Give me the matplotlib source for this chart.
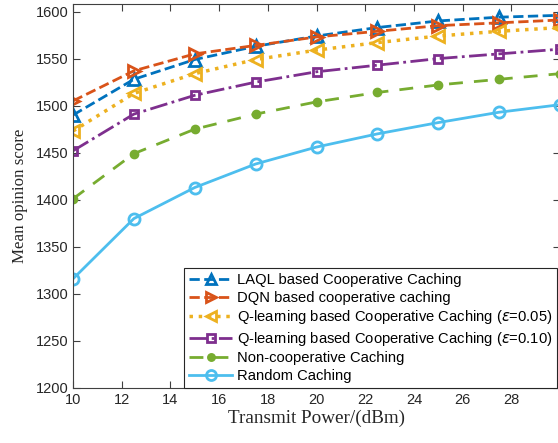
import matplotlib
matplotlib.use('Agg')
import matplotlib.pyplot as plt

# transmit power values (dBm)
power = [10, 12.5, 15, 17.5, 20, 22.5, 25, 27.5, 30]

# mean opinion score for each scheme
laql = [1490, 1528, 1549, 1563, 1574, 1583, 1590, 1594, 1596]
dqn = [1505, 1537, 1555, 1564, 1573, 1579, 1585, 1588, 1591]
ql_005 = [1473, 1513, 1534, 1549, 1559, 1567, 1574, 1579, 1583]
ql_010 = [1452, 1491, 1511, 1525, 1536, 1543, 1550, 1555, 1560]
noncoop = [1401, 1449, 1475, 1491, 1504, 1514, 1522, 1528, 1534]
random_c = [1316, 1380, 1413, 1438, 1456, 1470, 1482, 1493, 1501]

labels = ['LAQL based Cooperative Caching',
          'DQN based cooperative caching',
          r'Q-learning based Cooperative Caching ($\epsilon$=0.05)',
          r'Q-learning based Cooperative Caching ($\epsilon$=0.10)',
          'Non-cooperative Caching',
          'Random Caching']

fig = plt.figure(figsize=(5.58, 4.43), dpi=100)
ax = fig.add_axes([73/558, 1-388/443, 487/558, 384/443])

lw = 2
ms = 7
ax.plot(power, laql, '--', color='#0072BD', lw=lw, marker='^', ms=ms+1,
        mfc='none', mew=2, label=labels[0])
ax.plot(power, dqn, '--', color='#D95319', lw=lw, marker='>', ms=ms+1,
        mfc='none', mew=2, label=labels[1])
ax.plot(power, ql_005, ':', color='#EDB120', lw=lw+0.5, marker='<', ms=ms+1,
        mfc='none', mew=2, label=labels[2])
ax.plot(power, ql_010, '-.', color='#7E2F8E', lw=lw, marker='s', ms=ms-1,
        mfc='none', mew=2, label=labels[3])
ax.plot(power, noncoop, '--', color='#77AC30', lw=lw, marker='o', ms=ms-1,
        mfc='#77AC30', mew=1, label=labels[4], dashes=(5, 4))
ax.plot(power, random_c, '-', color='#4DBEEE', lw=lw, marker='o', ms=ms+1,
        mfc='none', mew=2, label=labels[5])

ax.set_xlim(10, 30)
ax.set_ylim(1200, 1608)
ax.set_xticks([10, 12, 14, 16, 18, 20, 22, 24, 26, 28])
ax.set_yticks(range(1200, 1601, 50))
ax.tick_params(direction='in', top=True, right=True, length=5, width=0.8,
               colors='#404040', labelcolor='#262626', labelsize=10.5)
for lab in ax.get_xticklabels() + ax.get_yticklabels():
    lab.set_family('Liberation Sans')
for s in ax.spines.values():
    s.set_color('#404040')
    s.set_linewidth(0.8)

ax.set_xlabel('Transmit Power/(dBm)', family='Liberation Serif', fontsize=13.8,
              color='#262626', labelpad=2)
ax.set_ylabel('Mean opinion score', family='Liberation Serif', fontsize=12.2,
              color='#262626', labelpad=5)

leg = ax.legend(loc='lower left', bbox_to_anchor=(111/487, 0), fancybox=False,
                edgecolor='#262626', framealpha=1, borderaxespad=0,
                prop={'family': 'Liberation Sans', 'size': 10.6},
                labelspacing=0.24, handlelength=2.9, handletextpad=0.34,
                borderpad=0.35, markerscale=0.9)
leg.get_frame().set_linewidth(0.8)

fig.savefig('out.png', dpi=100)
